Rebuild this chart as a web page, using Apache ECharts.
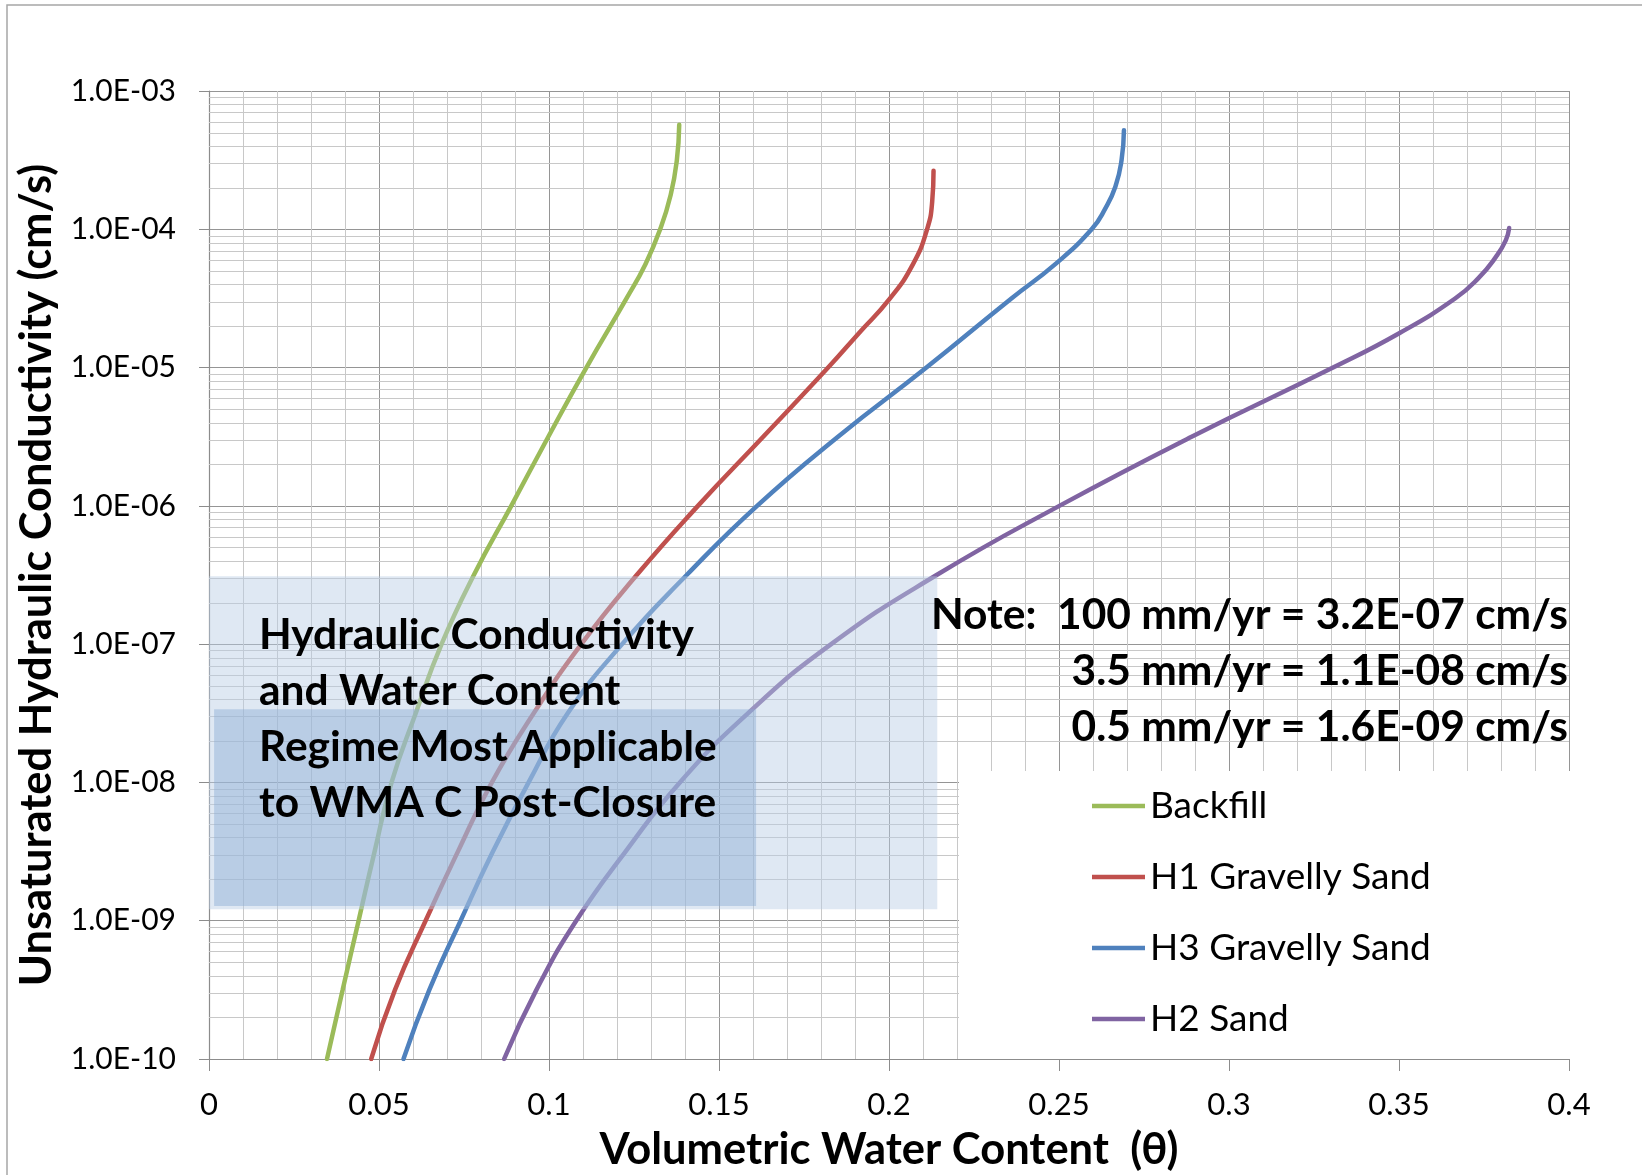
<!DOCTYPE html>
<html><head><meta charset="utf-8">
<script src="https://cdn.jsdelivr.net/npm/echarts@6/dist/echarts.min.js"></script>
<style>html,body{margin:0;padding:0;background:#fff}#c{width:1642px;height:1175px}</style>
</head><body><div id="c"></div>
<script>
// ---- data (x = volumetric water content, y = unsaturated K in cm/s) ----
const seriesNames = ['Backfill', 'H1 Gravelly Sand', 'H3 Gravelly Sand', 'H2 Sand'];
const seriesColors = ['#9bbb59', '#c0504d', '#4f81bd', '#8064a2'];

const backfill = [[0.0347,1.0e-10],[0.0393,3.16e-10],[0.0440,1.0e-9],[0.0487,3.16e-9],[0.0537,1.0e-8],[0.0608,3.16e-8],[0.0684,1.0e-7],[0.0779,3.16e-7],[0.0889,1.0e-6],[0.0998,3.16e-6],[0.1110,1.0e-5],[0.1228,3.16e-5],[0.1284,5.62e-5],[0.1327,1.0e-4],[0.1358,1.78e-4],[0.1376,3.16e-4],[0.1383,5.7e-4]];
const h1GravellySand = [[0.0477,1.0e-10],[0.0547,3.16e-10],[0.0637,1.0e-9],[0.0732,3.16e-9],[0.0832,1.0e-8],[0.0955,3.16e-8],[0.1095,1.0e-7],[0.1258,3.16e-7],[0.1438,1.0e-6],[0.1630,3.16e-6],[0.1821,1.0e-5],[0.1912,1.78e-5],[0.2003,3.16e-5],[0.2071,5.62e-5],[0.2112,1.0e-4],[0.2127,1.58e-4],[0.2131,2.65e-4]];
const h3GravellySand = [[0.0572,1.0e-10],[0.0648,3.16e-10],[0.0740,1.0e-9],[0.0835,3.16e-9],[0.0940,1.0e-8],[0.1055,3.16e-8],[0.1215,1.0e-7],[0.1405,3.16e-7],[0.1612,1.0e-6],[0.1850,3.16e-6],[0.2110,1.0e-5],[0.2360,3.16e-5],[0.2490,5.62e-5],[0.2596,1.0e-4],[0.2636,1.41e-4],[0.2666,2.04e-4],[0.2684,3.16e-4],[0.2691,5.2e-4]];
const h2Sand = [[0.0868,1.0e-10],[0.0963,3.16e-10],[0.1080,1.0e-9],[0.1225,3.16e-9],[0.1385,1.0e-8],[0.1585,3.16e-8],[0.1830,1.0e-7],[0.2140,3.16e-7],[0.2501,1.0e-6],[0.2890,3.16e-6],[0.3306,1.0e-5],[0.3502,1.78e-5],[0.3665,3.16e-5],[0.3735,4.47e-5],[0.3785,6.31e-5],[0.3814,8.32e-5],[0.3824,1.02e-4]];

// shaded regime boxes: [x0, yTop, x1, yBottom]
const regimeOuter = [0, 3.1e-7, 0.2142, 1.21e-9];
const regimeInner = [0.0015, 3.38e-8, 0.1609, 1.28e-9];
const regimeColors = ['rgba(185,205,229,0.45)', 'rgba(140,172,212,0.45)'];

// axes
const xMin = 0, xMax = 0.4, xInterval = 0.05;
const yMin = 1e-10, yMax = 1e-3;
const yDecades = [-10, -9, -8, -7, -6, -5, -4];
const yMinorMultipliers = [2, 3, 4, 5, 6, 7, 8, 9];

// texts
const xTitle = 'Volumetric Water Content  (θ)';
const yTitle = 'Unsaturated Hydraulic Conductivity (cm/s)';
const annotationLines = ['Hydraulic Conductivity', 'and Water Content', 'Regime Most Applicable', 'to WMA C Post-Closure'];
const noteLines = ['Note:  100 mm/yr = 3.2E-07 cm/s', '3.5 mm/yr = 1.1E-08 cm/s', '0.5 mm/yr = 1.6E-09 cm/s'];

// ---- build ----
const seriesData = [backfill, h1GravellySand, h3GravellySand, h2Sand];
const minorY = [];
yDecades.forEach(d => yMinorMultipliers.forEach(m => minorY.push(Number((m * Math.pow(10, d)).toPrecision(3)))));

function fmtE(v) {
  const e = Math.round(Math.log10(v));
  const m = v / Math.pow(10, e);
  return m.toFixed(1) + 'E' + (e < 0 ? '-' : '+') + String(Math.abs(e)).padStart(2, '0');
}

const FONT = 'Lato, "Open Sans", sans-serif';
const chart = echarts.init(document.getElementById('c'), null, {renderer: 'canvas'});

const series = [];
// minor log gridlines (drawn through the axes' scales)
series.push({
  name: '_minorGrid', type: 'custom', z: 1, silent: true, clip: true,
  encode: {x: [0, 2], y: 1},
  data: minorY.map(v => [xMin, v, xMax]),
  renderItem: (params, api) => {
    const a = api.coord([api.value(0), api.value(1)]);
    const b = api.coord([api.value(2), api.value(1)]);
    return {type: 'line', shape: {x1: a[0], y1: Math.round(a[1]) + 0.5, x2: b[0], y2: Math.round(b[1]) + 0.5},
      style: {stroke: '#c8c8c8', lineWidth: 1}};
  }
});
seriesNames.forEach((n, i) => series.push({
  name: n, type: 'line', data: seriesData[i], symbol: 'none', smooth: 0.5, z: 3,
  lineStyle: {color: seriesColors[i], width: 4.5, cap: 'round', join: 'round'}, itemStyle: {color: seriesColors[i]}
}));
series.push({
  name: '_regime', type: 'custom', z: 6, silent: true,
  encode: {x: [0, 2], y: [1, 3]},
  data: [regimeOuter, regimeInner],
  renderItem: (params, api) => {
    const p0 = api.coord([api.value(0), api.value(1)]);
    const p1 = api.coord([api.value(2), api.value(3)]);
    return {type: 'rect', shape: {x: p0[0], y: p0[1], width: p1[0] - p0[0], height: p1[1] - p0[1]},
      style: {fill: regimeColors[params.dataIndex]}};
  }
});

chart.setOption({
  animation: false,
  backgroundColor: '#fff',
  grid: {left: 209, top: 91, right: 73, bottom: 116, containLabel: false, outerBoundsMode: 'none'},
  xAxis: {
    type: 'value', min: xMin, max: xMax, interval: xInterval,
    axisLine: {show: true, lineStyle: {color: '#8c8c8c', width: 1.2}},
    axisTick: {show: true, length: 12, lineStyle: {color: '#8c8c8c'}},
    axisLabel: {fontFamily: FONT, fontSize: 31, color: '#000', margin: 30, lineHeight: 31},
    splitLine: {show: true, lineStyle: {color: '#959595', width: 1}},
    minorTick: {show: false, splitNumber: 5},
    minorSplitLine: {show: true, lineStyle: {color: '#c8c8c8', width: 1}},
    name: xTitle, nameLocation: 'middle', nameGap: 68,
    nameTextStyle: {fontFamily: FONT, fontSize: 43.5, fontWeight: 'bold', color: '#000', lineHeight: 46}
  },
  yAxis: {
    type: 'log', logBase: 10, min: yMin, max: yMax, splitNumber: 7,
    axisLine: {show: true, lineStyle: {color: '#8c8c8c', width: 1.2}},
    axisTick: {show: true, length: 10, lineStyle: {color: '#8c8c8c'}},
    axisLabel: {fontFamily: FONT, fontSize: 30, color: '#000', margin: 33, formatter: fmtE},
    splitLine: {show: true, lineStyle: {color: '#959595', width: 1}},
    name: yTitle, nameLocation: 'middle', nameGap: 119, nameRotate: 90,
    nameTextStyle: {fontFamily: FONT, fontSize: 43.5, fontWeight: 'bold', color: '#000', lineHeight: 46}
  },
  legend: {
    data: seriesNames, orient: 'vertical', left: 959, top: 771,
    backgroundColor: '#fff', padding: [15, 140, 20, 133], itemGap: 31,
    itemWidth: 53, itemHeight: 4.5, icon: 'rect',
    textStyle: {fontFamily: FONT, fontSize: 37, color: '#000', lineHeight: 40}
  },
  graphic: [
    {type: 'rect', z: 0, silent: true, shape: {x: 7, y: 5, width: 1700, height: 1300},
      style: {fill: 'none', stroke: '#a6a6a6', lineWidth: 1.5}},
    {type: 'text', z: 100, x: 259, y: 607, silent: true,
      style: {text: annotationLines.join('\n'), fontFamily: FONT, fontSize: 42.5, fontWeight: 'bold',
        lineHeight: 56, fill: '#000', align: 'left', verticalAlign: 'top'}},
    {type: 'text', z: 100, x: 1568, y: 587, silent: true,
      style: {text: noteLines.join('\n'), fontFamily: FONT, fontSize: 42.5, fontWeight: 'bold',
        lineHeight: 56, fill: '#000', align: 'right', verticalAlign: 'top'}}
  ],
  series: series
});
</script></body></html>
